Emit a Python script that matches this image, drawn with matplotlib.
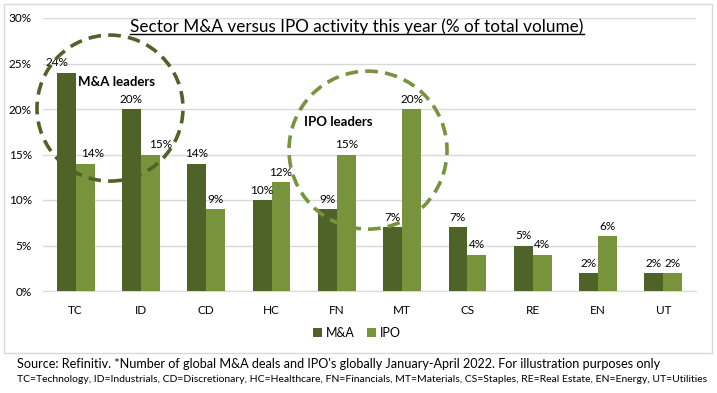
import numpy as np
import matplotlib
matplotlib.use("Agg")
import matplotlib.pyplot as plt
from matplotlib.patches import Ellipse, Rectangle
from matplotlib.lines import Line2D

plt.rcParams['font.family'] = ['Lato', 'DejaVu Sans']

# data
sectors = ['TC', 'ID', 'CD', 'HC', 'FN', 'MT', 'CS', 'RE', 'EN', 'UT']
ma_share = [24, 20, 14, 10, 9, 7, 7, 5, 2, 2]
ipo_share = [14, 15, 9, 12, 15, 20, 4, 4, 6, 2]
series_names = ['M&A', 'IPO']
yticks = [0, 5, 10, 15, 20, 25, 30]

title = 'Sector M&A versus IPO activity this year (% of total volume)'
source = ("Source: Refinitiv. *Number of global M&A deals and IPO's globally "
          "January-April 2022. For illustration purposes only")
legend_note = ("TC=Technology, ID=Industrials, CD=Discretionary, HC=Healthcare, "
               "FN=Financials, MT=Materials, CS=Staples, RE=Real Estate, "
               "EN=Energy, UT=Utilities")

DARK = '#4F6228'
LIGHT = '#77933C'
GRID = '#D9D9D9'

# a few labels were nudged sideways in the original (points)
nudge = {(0, 0): -7, (1, 0): 5, (1, 1): 7}

fig = plt.figure(figsize=(7.17, 3.93), dpi=100)
fig.patch.set_facecolor('white')

# outer frame of the chart
fig.patches.append(Rectangle((4 / 717, 40 / 393), 708 / 717, 349 / 393,
                             transform=fig.transFigure, fill=False,
                             edgecolor=GRID, linewidth=1))

ax = fig.add_axes([43 / 717, 102 / 393, 653 / 717, 273 / 393])
x = np.arange(len(sectors))
w = 0.29
bars_ma = ax.bar(x - w / 2, ma_share, w, color=DARK, label=series_names[0], zorder=3)
bars_ipo = ax.bar(x + w / 2, ipo_share, w, color=LIGHT, label=series_names[1], zorder=3)

for s, bars in enumerate([bars_ma, bars_ipo]):
    for i, b in enumerate(bars):
        dx = nudge.get((s, i), 0)
        ax.annotate(f'{b.get_height():.0f}%',
                    (b.get_x() + b.get_width() / 2, b.get_height()),
                    xytext=(dx, 3), textcoords='offset points',
                    ha='center', va='bottom', fontsize=8.5, zorder=5)

ax.set_xlim(-0.5, len(sectors) - 0.5)
ax.set_ylim(0, 30)
ax.set_yticks(yticks)
ax.set_yticklabels([f'{t}%' for t in yticks], fontsize=8.5)
ax.set_xticks(x)
ax.set_xticklabels(sectors, fontsize=8.5)
ax.tick_params(length=0)
ax.tick_params(axis='x', pad=10)
ax.tick_params(axis='y', pad=8)
ax.grid(axis='y', color=GRID, linewidth=1, zorder=0)
for side in ['top', 'right', 'left']:
    ax.spines[side].set_visible(False)
ax.spines['bottom'].set_color(GRID)

# dashed circles highlighting the leaders
ax.add_patch(Ellipse((0.1026, 0.670), 146 / 653, 146 / 273, transform=ax.transAxes,
                     fill=False, edgecolor=DARK, linewidth=2.6,
                     linestyle=(0, (3.5, 2)), zorder=6, clip_on=False))
ax.add_patch(Ellipse((0.4977, 0.516), 158 / 653, 158 / 273, transform=ax.transAxes,
                     fill=False, edgecolor=LIGHT, linewidth=2.6,
                     linestyle=(0, (3.5, 2)), zorder=6, clip_on=False))
ax.text((78 - 43) / 653, (291 - 82) / 273, 'M&A leaders', transform=ax.transAxes,
        fontsize=9.5, fontweight='bold', va='center', ha='left', zorder=7)
ax.text((304 - 43) / 653, (291 - 122) / 273, 'IPO leaders', transform=ax.transAxes,
        fontsize=9.5, fontweight='bold', va='center', ha='left', zorder=7)

# underlined title
t = fig.text(357 / 717, 1 - 27 / 393, title, ha='center', va='center', fontsize=12.3)
fig.canvas.draw()
bb = t.get_window_extent().transformed(fig.transFigure.inverted())
fig.lines.append(Line2D([bb.x0, bb.x1], [1 - 34 / 393] * 2,
                        transform=fig.transFigure, color='black', linewidth=1))

fig.legend(handles=[bars_ma, bars_ipo], labels=series_names, loc='center',
           bbox_to_anchor=(357 / 717, 60 / 393), ncol=2, frameon=False,
           fontsize=9, handlelength=0.7, handleheight=0.7, handletextpad=0.3,
           columnspacing=1.0)

fig.text(17 / 717, 1 - 364 / 393, source, ha='left', va='center', fontsize=9.1)
fig.text(17 / 717, 1 - 380 / 393, legend_note, ha='left', va='center', fontsize=7.45)

fig.savefig('out.png', dpi=100)
